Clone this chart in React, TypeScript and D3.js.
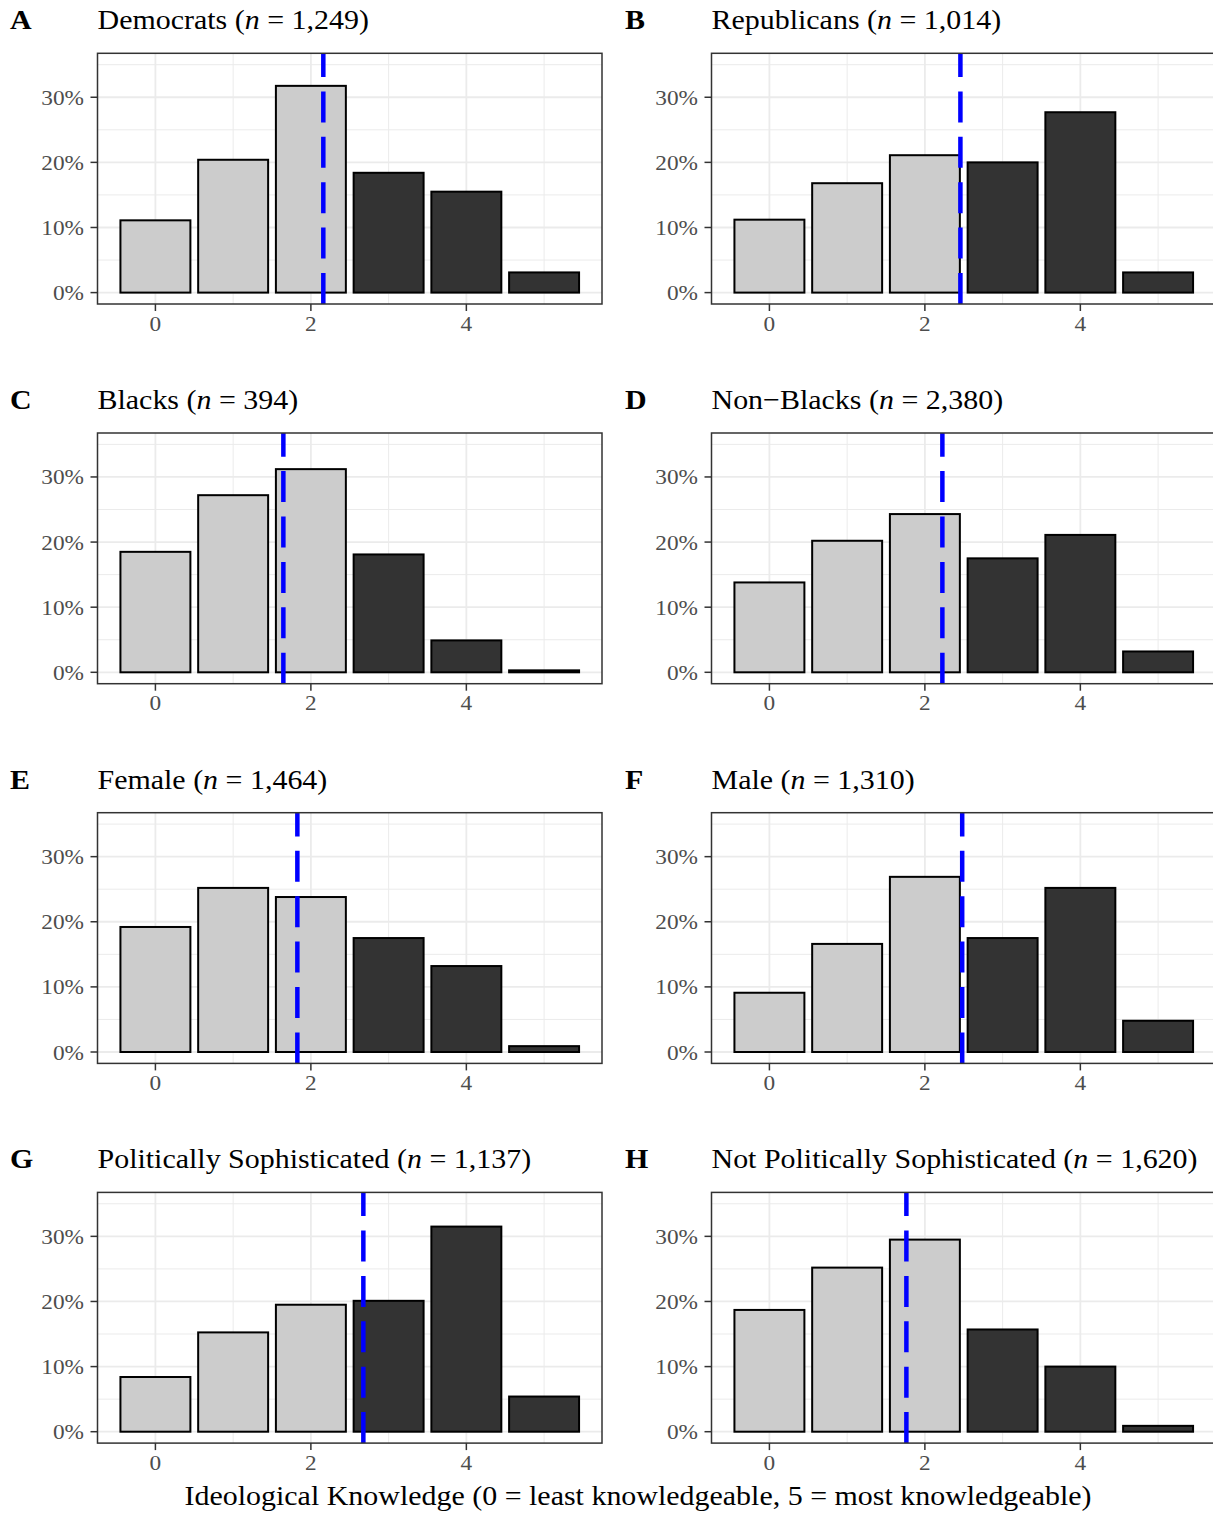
import React from "react";
import * as d3 from "d3";

const CATEGORIES = [0, 1, 2, 3, 4, 5];
const X_TICKS = [0, 2, 4];
const X_MINOR = [1, 3, 5];
const Y_TICKS = [0, 10, 20, 30];
const Y_MINOR = [5, 15, 25, 35];

const LETTERS = ["A", "B", "C", "D", "E", "F", "G", "H"];
const GROUPS = [
  "Democrats",
  "Republicans",
  "Blacks",
  "Non\u2212Blacks",
  "Female",
  "Male",
  "Politically Sophisticated",
  "Not Politically Sophisticated",
];
const SAMPLE_N = ["1,249", "1,014", "394", "2,380", "1,464", "1,310", "1,137", "1,620"];

const DEMOCRATS = [11.1, 20.4, 31.75, 18.4, 15.5, 3.1];
const REPUBLICANS = [11.2, 16.8, 21.1, 20.0, 27.7, 3.1];
const BLACKS = [18.5, 27.2, 31.2, 18.1, 4.9, 0.3];
const NON_BLACKS = [13.8, 20.2, 24.3, 17.5, 21.1, 3.2];
const FEMALE = [19.2, 25.2, 23.8, 17.5, 13.2, 0.9];
const MALE = [9.1, 16.6, 26.9, 17.5, 25.2, 4.8];
const SOPHISTICATED = [8.4, 15.25, 19.5, 20.1, 31.5, 5.4];
const NOT_SOPHISTICATED = [18.7, 25.2, 29.5, 15.7, 10.0, 0.9];

const SERIES = [DEMOCRATS, REPUBLICANS, BLACKS, NON_BLACKS, FEMALE, MALE, SOPHISTICATED, NOT_SOPHISTICATED];
const MEANS = [2.16, 2.457, 1.646, 2.225, 1.826, 2.48, 2.675, 1.762];

const X_TITLE = "Ideological Knowledge (0 = least knowledgeable, 5 = most knowledgeable)";

const FONT = "'Liberation Serif', 'Times New Roman', Times, serif";
const SX_TITLE = 1.07;
const SX_TICK = 1.11;

function Panel({ idx }: { idx: number }) {
  const col = idx % 2;
  const row = Math.floor(idx / 2);
  const left = col === 0 ? 97.5 : 711.5;
  const top = 53.3 + row * 379.7;
  const w = 504.5;
  const h = 250.7;
  const x = d3.scaleLinear().domain([-0.745, 5.745]).range([left, left + w]);
  const y = d3.scaleLinear().domain([-1.75, 36.75]).range([top + h, top]);
  const values = SERIES[idx];
  const letterX = col === 0 ? 10 : 625;
  const titleY = top - 24;
  return (
    <g>
      <text
        transform={`translate(${letterX},${titleY}) scale(${SX_TITLE},1)`}
        fontFamily={FONT}
        fontSize={28}
        fontWeight="bold"
      >
        {LETTERS[idx]}
      </text>
      <text transform={`translate(${left},${titleY}) scale(${SX_TITLE},1)`} fontFamily={FONT} fontSize={28}>
        {GROUPS[idx]} (<tspan fontStyle="italic">n</tspan> = {SAMPLE_N[idx]})
      </text>
      <rect x={left} y={top} width={w} height={h} fill="#fff" />
      {Y_MINOR.map((v) => (
        <line key={"ym" + v} x1={left} x2={left + w} y1={y(v)} y2={y(v)} stroke="#EBEBEB" strokeWidth={1} />
      ))}
      {X_MINOR.map((v) => (
        <line key={"xm" + v} x1={x(v)} x2={x(v)} y1={top} y2={top + h} stroke="#EBEBEB" strokeWidth={1} />
      ))}
      {Y_TICKS.map((v) => (
        <line key={"yg" + v} x1={left} x2={left + w} y1={y(v)} y2={y(v)} stroke="#EBEBEB" strokeWidth={1.8} />
      ))}
      {X_TICKS.map((v) => (
        <line key={"xg" + v} x1={x(v)} x2={x(v)} y1={top} y2={top + h} stroke="#EBEBEB" strokeWidth={1.8} />
      ))}
      {CATEGORIES.map((c, i) => (
        <rect
          key={"b" + c}
          x={x(c - 0.45)}
          y={y(values[i])}
          width={x(c + 0.45) - x(c - 0.45)}
          height={y(0) - y(values[i])}
          fill={c <= 2 ? "#CCCCCC" : "#333333"}
          stroke="#000"
          strokeWidth={2}
        />
      ))}
      <line
        x1={x(MEANS[idx])}
        x2={x(MEANS[idx])}
        y1={top + h}
        y2={top}
        stroke="#0000FF"
        strokeWidth={4.5}
        strokeDasharray="31 14.4"
      />
      <rect x={left} y={top} width={w} height={h} fill="none" stroke="#333333" strokeWidth={1.5} />
      {Y_TICKS.map((v) => (
        <g key={"yt" + v}>
          <line x1={left - 7} x2={left} y1={y(v)} y2={y(v)} stroke="#333333" strokeWidth={1.5} />
          <text
            transform={`translate(${left - 13.5},${y(v) + 7.5}) scale(${SX_TICK},1)`}
            textAnchor="end"
            fontFamily={FONT}
            fontSize={21}
            fill="#4D4D4D"
          >
            {v}%
          </text>
        </g>
      ))}
      {X_TICKS.map((v) => (
        <g key={"xt" + v}>
          <line x1={x(v)} x2={x(v)} y1={top + h} y2={top + h + 7} stroke="#333333" strokeWidth={1.5} />
          <text
            transform={`translate(${x(v)},${top + h + 26.5}) scale(${SX_TICK},1)`}
            textAnchor="middle"
            fontFamily={FONT}
            fontSize={21}
            fill="#4D4D4D"
          >
            {v}
          </text>
        </g>
      ))}
    </g>
  );
}

export default function App() {
  return (
    <svg
      width={1213}
      height={1514}
      style={{ position: "absolute", left: 0, top: 0, background: "#fff" }}
    >
      <rect x={0} y={0} width={1213} height={1514} fill="#fff" />
      {SERIES.map((_, i) => (
        <Panel key={i} idx={i} />
      ))}
      <text
        transform={`translate(638,1505) scale(${SX_TITLE},1)`}
        textAnchor="middle"
        fontFamily={FONT}
        fontSize={28}
      >
        {X_TITLE}
      </text>
    </svg>
  );
}
